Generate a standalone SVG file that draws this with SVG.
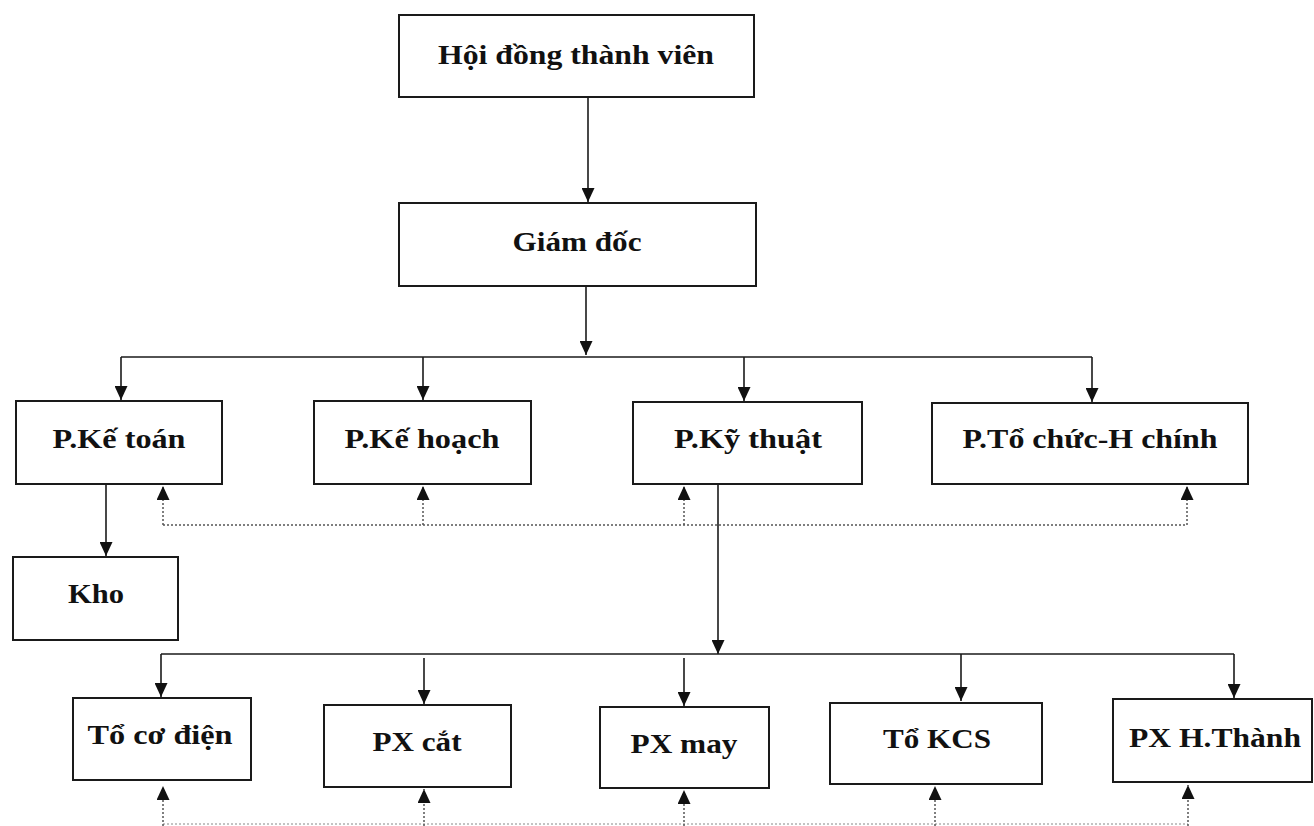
<svg xmlns="http://www.w3.org/2000/svg" width="1314" height="826" viewBox="0 0 1314 826">
<style>
.box{fill:#fff;stroke:#1a1a1a;stroke-width:2}
.lbl{font-family:"Liberation Serif","Times New Roman",serif;font-weight:bold;font-size:28px;fill:#111;text-anchor:middle}
.solid{fill:none;stroke:#1a1a1a;stroke-width:1.6}
.dot{fill:none;stroke:#555;stroke-width:1.5;stroke-dasharray:2 2}
.dotfaint{fill:none;stroke:#888;stroke-width:1.2;stroke-dasharray:2 2}
</style>
<defs>
<marker id="ah" viewBox="0 0 14 13" markerWidth="14" markerHeight="13" refX="14" refY="6.5" orient="auto" markerUnits="userSpaceOnUse">
<path d="M0,0 L14,6.5 L0,13 z" fill="#111"/>
</marker>
</defs>
<rect width="1314" height="826" fill="#fff"/>

<g id="connectors">
<line class="solid" x1="588" y1="97" x2="588" y2="202" marker-end="url(#ah)"/>
<line class="solid" x1="586" y1="286" x2="586" y2="355" marker-end="url(#ah)"/>
<line class="solid" x1="121" y1="357" x2="1092" y2="357"/>
<line class="solid" x1="121" y1="357" x2="121" y2="400" marker-end="url(#ah)"/>
<line class="solid" x1="423" y1="357" x2="423" y2="400" marker-end="url(#ah)"/>
<line class="solid" x1="744" y1="357" x2="744" y2="401" marker-end="url(#ah)"/>
<line class="solid" x1="1092" y1="357" x2="1092" y2="402" marker-end="url(#ah)"/>
<line class="solid" x1="106" y1="484" x2="106" y2="556" marker-end="url(#ah)"/>
<line class="dot" x1="163" y1="525" x2="1187" y2="525"/>
<line class="dot" x1="163" y1="525" x2="163" y2="486" marker-end="url(#ah)"/>
<line class="dot" x1="423" y1="525" x2="423" y2="486" marker-end="url(#ah)"/>
<line class="dot" x1="684" y1="525" x2="684" y2="486" marker-end="url(#ah)"/>
<line class="dot" x1="1187" y1="525" x2="1187" y2="486" marker-end="url(#ah)"/>
<line class="solid" x1="718" y1="484" x2="718" y2="654" marker-end="url(#ah)"/>
<line class="solid" x1="161" y1="654" x2="1234" y2="654"/>
<line class="solid" x1="161" y1="654" x2="161" y2="697" marker-end="url(#ah)"/>
<line class="solid" x1="424" y1="658" x2="424" y2="704" marker-end="url(#ah)"/>
<line class="solid" x1="684" y1="658" x2="684" y2="706" marker-end="url(#ah)"/>
<line class="solid" x1="961" y1="654" x2="961" y2="701" marker-end="url(#ah)"/>
<line class="solid" x1="1234" y1="654" x2="1234" y2="698" marker-end="url(#ah)"/>
<line class="dotfaint" x1="163" y1="824" x2="1188" y2="824"/>
<line class="dot" x1="163" y1="826" x2="163" y2="786" marker-end="url(#ah)"/>
<line class="dot" x1="424" y1="826" x2="424" y2="789" marker-end="url(#ah)"/>
<line class="dot" x1="684" y1="826" x2="684" y2="790" marker-end="url(#ah)"/>
<line class="dot" x1="935" y1="826" x2="935" y2="786" marker-end="url(#ah)"/>
<line class="dot" x1="1188" y1="826" x2="1188" y2="785" marker-end="url(#ah)"/>
</g>

<g id="hoi-dong"><rect class="box" x="399" y="15" width="355" height="82"/><text class="lbl" x="576" y="64" textLength="276" lengthAdjust="spacingAndGlyphs">Hội đồng thành viên</text></g>
<g id="giam-doc"><rect class="box" x="399" y="203" width="357" height="83"/><text class="lbl" x="577" y="251" textLength="129" lengthAdjust="spacingAndGlyphs">Giám đốc</text></g>
<g id="ke-toan"><rect class="box" x="16" y="401" width="206" height="83"/><text class="lbl" x="119" y="448" textLength="133" lengthAdjust="spacingAndGlyphs">P.Kế toán</text></g>
<g id="ke-hoach"><rect class="box" x="314" y="401" width="217" height="83"/><text class="lbl" x="422" y="448" textLength="155" lengthAdjust="spacingAndGlyphs">P.Kế hoạch</text></g>
<g id="ky-thuat"><rect class="box" x="633" y="402" width="229" height="82"/><text class="lbl" x="748" y="448" textLength="148" lengthAdjust="spacingAndGlyphs">P.Kỹ thuật</text></g>
<g id="to-chuc"><rect class="box" x="932" y="403" width="316" height="81"/><text class="lbl" x="1090" y="448" textLength="255" lengthAdjust="spacingAndGlyphs">P.Tổ chức-H chính</text></g>
<g id="kho"><rect class="box" x="13" y="557" width="165" height="83"/><text class="lbl" x="96" y="603" textLength="56" lengthAdjust="spacingAndGlyphs">Kho</text></g>
<g id="to-co-dien"><rect class="box" x="73" y="698" width="178" height="82"/><text class="lbl" x="160" y="744" textLength="145" lengthAdjust="spacingAndGlyphs">Tổ cơ điện</text></g>
<g id="px-cat"><rect class="box" x="324" y="705" width="187" height="82"/><text class="lbl" x="417" y="751" textLength="89" lengthAdjust="spacingAndGlyphs">PX cắt</text></g>
<g id="px-may"><rect class="box" x="600" y="707" width="169" height="81"/><text class="lbl" x="684" y="753" textLength="107" lengthAdjust="spacingAndGlyphs">PX may</text></g>
<g id="to-kcs"><rect class="box" x="830" y="703" width="212" height="81"/><text class="lbl" x="937" y="748" textLength="108" lengthAdjust="spacingAndGlyphs">Tổ KCS</text></g>
<g id="px-hthanh"><rect class="box" x="1113" y="699" width="199" height="83"/><text class="lbl" x="1215" y="747" textLength="172" lengthAdjust="spacingAndGlyphs">PX H.Thành</text></g>
</svg>
